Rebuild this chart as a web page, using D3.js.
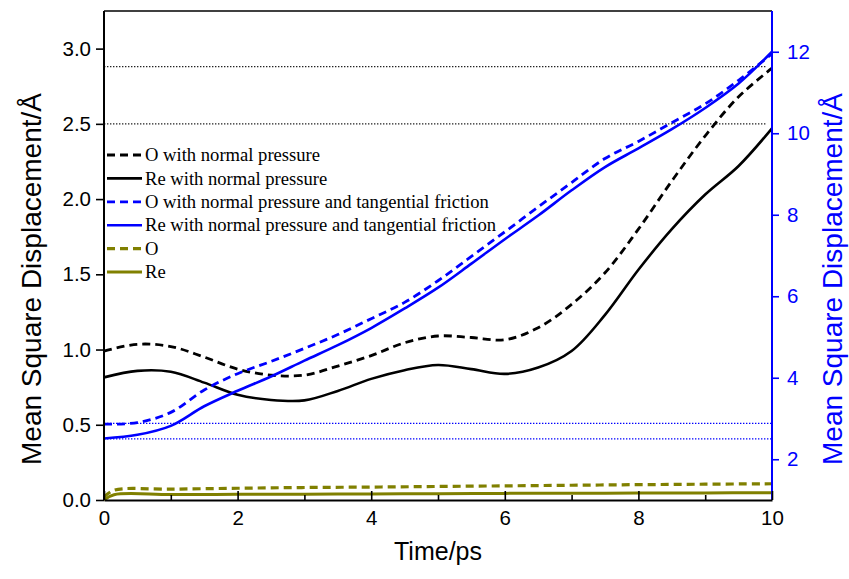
<!DOCTYPE html>
<html>
<head>
<meta charset="utf-8">
<script src="https://cdn.jsdelivr.net/npm/d3@7"></script>
<style>
  html, body { margin: 0; padding: 0; background: #fff; }
  svg { display: block; }
</style>
</head>
<body>
<svg id="chart" width="849" height="579"></svg>
<script>
// ---------- data ----------
const time = [0,0.5,1,1.5,2,2.5,3,3.5,4,4.5,5,5.5,6,6.5,7,7.5,8,8.5,9,9.5,10];

// left axis (Å²)
const oNormal  = [0.99,1.035,1.02,0.95,0.87,0.83,0.83,0.89,0.96,1.045,1.09,1.08,1.065,1.145,1.30,1.51,1.80,2.12,2.42,2.68,2.87];
const reNormal = [0.815,0.858,0.852,0.78,0.70,0.665,0.662,0.725,0.805,0.863,0.897,0.87,0.838,0.88,0.99,1.23,1.53,1.80,2.03,2.22,2.47];

// right axis (Å²)
const oFriction  = [2.86,2.90,3.15,3.70,4.10,4.40,4.72,5.06,5.45,5.85,6.38,6.98,7.58,8.19,8.79,9.38,9.80,10.26,10.72,11.30,11.95];
const reFriction = [2.51,2.60,2.82,3.30,3.68,4.03,4.42,4.80,5.22,5.70,6.21,6.80,7.40,7.98,8.60,9.17,9.63,10.10,10.62,11.22,12.0];

// bare O / Re (left axis)
const timeBare = [0,0.15,1,2,3,4,5,6,7,8,9,10];
const oBare  = [0.02,0.065,0.072,0.078,0.083,0.086,0.09,0.094,0.098,0.102,0.105,0.108];
const reBare = [0.0,0.035,0.036,0.038,0.039,0.040,0.042,0.044,0.045,0.046,0.047,0.048];

// reference (dotted) levels
const blackRefLevels = [2.88, 2.5];   // left axis
const blueRefLevels  = [2.88, 2.5];   // right axis
const blackRefSpan = [0, 9.92];
const blueRefSpan  = [0, 10];

// ticks
const xTicks = [0,2,4,6,8,10];
const xMinorTicks = [1,3,5,7,9];
const yLeftTicks = [0,0.5,1.0,1.5,2.0,2.5,3.0];
const yRightTicks = [2,4,6,8,10,12];

const legendLabels = [
  "O with normal pressure",
  "Re with normal pressure",
  "O with normal pressure and tangential friction",
  "Re with normal pressure and tangential friction",
  "O",
  "Re"
];

// ---------- layout ----------
const X0 = 104, X1 = 772, YT = 11, YB = 500;
const BLUE = "#0000ff", OLIVE = "#808000", BLACK = "#000";
const DASH = "8,5";

const svg = d3.select("#chart");
const x  = d3.scaleLinear().domain([0,10]).range([X0,X1]);
const yL = d3.scaleLinear().domain([0,3.25]).range([YB,YT]);
const yR = d3.scaleLinear().domain([1,13]).range([YB,YT]);

const series = [
  {t: time, v: oNormal,    y: yL, color: BLACK, dash: DASH, w: 2.8},
  {t: time, v: reNormal,   y: yL, color: BLACK, dash: null, w: 2.6},
  {t: time, v: oFriction,  y: yR, color: BLUE,  dash: DASH, w: 2.8},
  {t: time, v: reFriction, y: yR, color: BLUE,  dash: null, w: 2.6},
  {t: timeBare, v: oBare,  y: yL, color: OLIVE, dash: DASH, w: 3.2},
  {t: timeBare, v: reBare, y: yL, color: OLIVE, dash: null, w: 3.0}
];

// dotted reference lines
blackRefLevels.forEach(v => {
  svg.append("line")
    .attr("x1", x(blackRefSpan[0])).attr("x2", x(blackRefSpan[1]))
    .attr("y1", yL(v)).attr("y2", yL(v))
    .attr("stroke", "#222").attr("stroke-width", 1.4)
    .attr("stroke-dasharray", "1.4,1.6");
});
blueRefLevels.forEach(v => {
  svg.append("line")
    .attr("x1", x(blueRefSpan[0])).attr("x2", x(blueRefSpan[1]))
    .attr("y1", yR(v)).attr("y2", yR(v))
    .attr("stroke", BLUE).attr("stroke-width", 1.4)
    .attr("stroke-dasharray", "1.4,1.6");
});

// series
series.forEach(s => {
  const line = d3.line()
    .x((d,i) => x(s.t[i]))
    .y(d => s.y(d))
    .curve(d3.curveCatmullRom.alpha(0.5));
  svg.append("path")
    .attr("d", line(s.v))
    .attr("fill", "none")
    .attr("stroke", s.color)
    .attr("stroke-width", s.w)
    .attr("stroke-dasharray", s.dash)
    .attr("stroke-linejoin", "round");
});

// top frame
svg.append("line").attr("x1", X0).attr("x2", X1).attr("y1", YT).attr("y2", YT)
  .attr("stroke", BLACK).attr("stroke-width", 1.5);

// axes
const tickFont = "'Liberation Sans', Arial, sans-serif";

const gL = svg.append("g").attr("transform", `translate(${X0},0)`)
  .call(d3.axisLeft(yL).tickValues(yLeftTicks).tickFormat(d3.format(".1f")).tickSize(8).tickPadding(5));
gL.select(".domain").attr("stroke-width", 2).attr("d", `M0,${YB}V${YT}`);
gL.selectAll(".tick line").attr("stroke-width", 1.6);
gL.selectAll("text").style("font-family", tickFont).style("font-size", "20.5px").attr("fill", BLACK);

const gR = svg.append("g").attr("transform", `translate(${X1},0)`)
  .call(d3.axisRight(yR).tickValues(yRightTicks).tickSize(7).tickPadding(8));
gR.select(".domain").attr("stroke", BLUE).attr("stroke-width", 2).attr("d", `M0,${YB}V${YT}`);
gR.selectAll(".tick line").attr("stroke", BLUE).attr("stroke-width", 1.6);
gR.selectAll("text").style("font-family", tickFont).style("font-size", "20.5px").attr("fill", BLUE);

const gB = svg.append("g").attr("transform", `translate(0,${YB})`)
  .call(d3.axisBottom(x).tickValues(xTicks).tickFormat(d3.format("d")).tickSizeInner(-9).tickSizeOuter(0).tickPadding(10));
gB.select(".domain").attr("stroke-width", 2);
gB.selectAll(".tick line").attr("stroke-width", 1.6);
gB.selectAll("text").style("font-family", tickFont).style("font-size", "20.5px").attr("fill", BLACK);

const gBm = svg.append("g").attr("transform", `translate(0,${YB})`)
  .call(d3.axisBottom(x).tickValues(xMinorTicks).tickFormat("").tickSizeInner(-5).tickSizeOuter(0));
gBm.select(".domain").remove();
gBm.selectAll(".tick line").attr("stroke-width", 1.6);

// axis titles
svg.append("text")
  .attr("x", (X0 + X1) / 2).attr("y", 560)
  .attr("text-anchor", "middle")
  .style("font-family", tickFont).style("font-size", "25px")
  .text("Time/ps");

svg.append("text")
  .attr("transform", "translate(41,279) rotate(-90)")
  .attr("text-anchor", "middle")
  .style("font-family", tickFont).style("font-size", "28px")
  .text("Mean Square Displacement/Å");

svg.append("text")
  .attr("transform", "translate(842,279) rotate(-90)")
  .attr("text-anchor", "middle")
  .attr("fill", BLUE)
  .style("font-family", tickFont).style("font-size", "28px")
  .text("Mean Square Displacement/Å");

// legend
const legendStyles = series.map(s => ({color: s.color, dash: s.dash, w: s.w}));
const lg = svg.append("g");
legendLabels.forEach((lab, i) => {
  const cy = 155 + i * 23.4;
  lg.append("line")
    .attr("x1", 107).attr("x2", 142).attr("y1", cy).attr("y2", cy)
    .attr("stroke", legendStyles[i].color)
    .attr("stroke-width", legendStyles[i].w)
    .attr("stroke-dasharray", legendStyles[i].dash);
  lg.append("text")
    .attr("x", 145).attr("y", cy).attr("dy", "0.33em")
    .style("font-family", "'Liberation Serif', 'Times New Roman', serif")
    .style("font-size", "18.6px")
    .text(lab);
});
</script>
</body>
</html>
